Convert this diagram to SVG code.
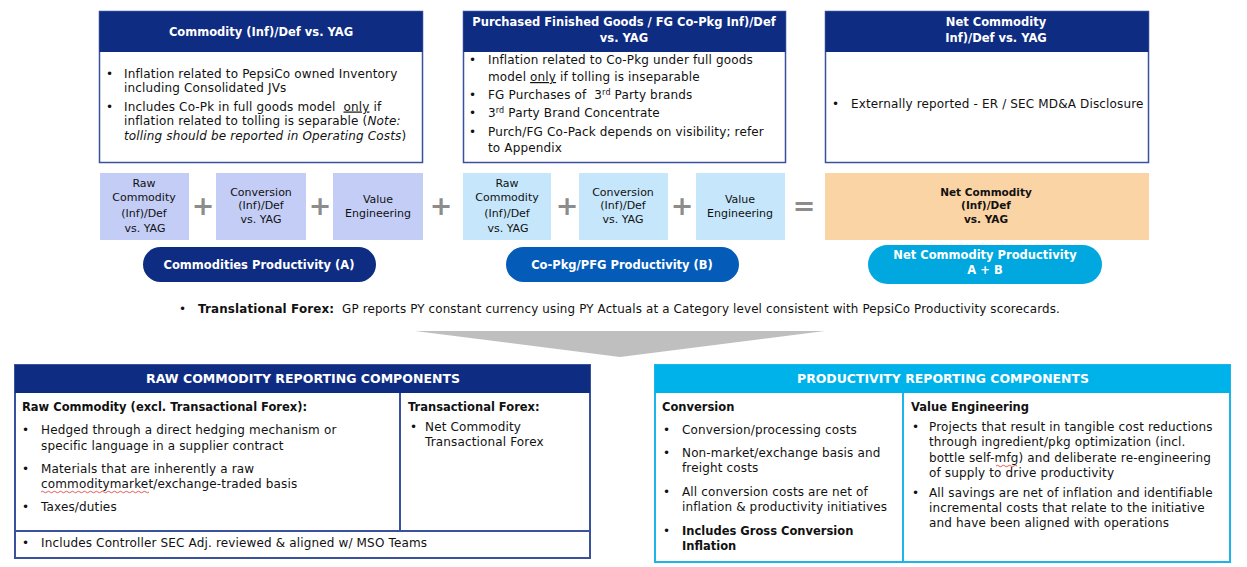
<svg xmlns="http://www.w3.org/2000/svg" width="1247" height="567" viewBox="0 0 1247 567">
<style>
text{font-family:"DejaVu Sans","Noto Sans",sans-serif;fill:#111;}
.t{font-size:12px;letter-spacing:0.15px;}
.tb{font-size:11.5px;font-weight:bold;}
.w{fill:#fff;font-weight:bold;}
.h{font-size:11.5px;}
.m{font-size:11px;text-anchor:middle;}
.mb{font-size:10.5px;font-weight:bold;text-anchor:middle;}
.c{text-anchor:middle;}
.navy{fill:#0f2c83;}
.box{fill:#fff;stroke:#3a519e;stroke-width:1.5;}
.lp{fill:#c3cdf6;}
.lb{fill:#c6e7fb;}
.sym{font-size:27px;fill:#8c8c8c;font-weight:bold;text-anchor:middle;}
.sq{fill:none;stroke:#e03030;stroke-width:0.8;}
</style>

<g id="box-commodity">
<rect class="box" x="99.5" y="11.5" width="323" height="151"/>
<rect class="navy" x="99.5" y="11.5" width="323" height="40.5"/>
<text class="h w c" x="261" y="35.5">Commodity (Inf)/Def vs. YAG</text>
<text class="t"><tspan x="106" y="77.5">•</tspan><tspan x="124" y="77.5">Inflation related to PepsiCo owned Inventory</tspan><tspan x="124" y="91.8">including Consolidated JVs</tspan></text>
<text class="t" xml:space="preserve"><tspan x="106" y="110.5">•</tspan><tspan x="124" y="110.5">Includes Co-Pk in full goods model  <tspan text-decoration="underline">only</tspan> if</tspan><tspan x="124" y="125">inflation related to tolling is separable (<tspan font-style="italic">Note:</tspan></tspan><tspan x="124" y="139.5"><tspan font-style="italic">tolling should be reported in Operating Costs</tspan>)</tspan></text>
</g>

<g id="box-pfg">
<rect class="box" x="463.5" y="11.5" width="322" height="151"/>
<rect class="navy" x="463.5" y="11.5" width="322" height="40.5"/>
<text class="h w c"><tspan x="624" y="26">Purchased Finished Goods / FG Co-Pkg Inf)/Def</tspan><tspan x="624" y="42">vs. YAG</tspan></text>
<text class="t"><tspan x="469" y="64">•</tspan><tspan x="488" y="64">Inflation related to Co-Pkg under full goods</tspan><tspan x="488" y="81">model <tspan text-decoration="underline">only</tspan> if tolling is inseparable</tspan></text>
<text class="t" xml:space="preserve"><tspan x="469" y="99">•</tspan><tspan x="488" y="99">FG Purchases of  3</tspan><tspan font-size="8" dy="-4.5">rd</tspan><tspan dy="4.5"> Party brands</tspan></text>
<text class="t"><tspan x="469" y="117">•</tspan><tspan x="488" y="117">3</tspan><tspan font-size="8" dy="-4.5">rd</tspan><tspan dy="4.5"> Party Brand Concentrate</tspan></text>
<text class="t"><tspan x="469" y="136">•</tspan><tspan x="488" y="136">Purch/FG Co-Pack depends on visibility; refer</tspan><tspan x="488" y="152">to Appendix</tspan></text>
</g>

<g id="box-net">
<rect class="box" x="825.5" y="11.5" width="323" height="151"/>
<rect class="navy" x="825.5" y="11.5" width="323" height="40.5"/>
<text class="h w c"><tspan x="996" y="26">Net Commodity</tspan><tspan x="996" y="42">Inf)/Def vs. YAG</tspan></text>
<text class="t"><tspan x="832" y="108">•</tspan><tspan x="851" y="108">Externally reported - ER / SEC MD&amp;A Disclosure</tspan></text>
</g>

<g id="a-raw">
<rect class="lp" x="100" y="173" width="89" height="67"/>
<text class="m"><tspan x="144" y="187">Raw</tspan><tspan x="144" y="201">Commodity</tspan><tspan x="144" y="217">(Inf)/Def</tspan><tspan x="145" y="232">vs. YAG</tspan></text>
</g>
<g id="a-conv">
<rect class="lp" x="216" y="173" width="90" height="67"/>
<text class="m"><tspan x="261" y="196">Conversion</tspan><tspan x="261" y="209.2">(Inf)/Def</tspan><tspan x="261" y="223">vs. YAG</tspan></text>
</g>
<g id="a-ve">
<rect class="lp" x="333" y="173" width="90" height="67"/>
<text class="m"><tspan x="378" y="203">Value</tspan><tspan x="378" y="217">Engineering</tspan></text>
</g>
<g id="b-raw">
<rect class="lb" x="463" y="173" width="88" height="67"/>
<text class="m"><tspan x="507" y="187">Raw</tspan><tspan x="507" y="201">Commodity</tspan><tspan x="507" y="217">(Inf)/Def</tspan><tspan x="508" y="232">vs. YAG</tspan></text>
</g>
<g id="b-conv">
<rect class="lb" x="579" y="173" width="89" height="67"/>
<text class="m"><tspan x="623" y="196">Conversion</tspan><tspan x="623" y="209.2">(Inf)/Def</tspan><tspan x="623" y="223">vs. YAG</tspan></text>
</g>
<g id="b-ve">
<rect class="lb" x="696" y="173" width="89" height="67"/>
<text class="m"><tspan x="740" y="203">Value</tspan><tspan x="740" y="217">Engineering</tspan></text>
</g>
<g id="net-result">
<rect fill="#fbd4a5" x="825" y="173" width="324" height="67"/>
<text class="mb"><tspan x="986" y="196">Net Commodity</tspan><tspan x="986" y="209.2">(Inf)/Def</tspan><tspan x="986" y="223">vs. YAG</tspan></text>
</g>

<g id="operators">
<text class="sym" x="203" y="215">+</text>
<text class="sym" x="320" y="215">+</text>
<text class="sym" x="441" y="215">+</text>
<text class="sym" x="567" y="215">+</text>
<text class="sym" x="682" y="215">+</text>
<text class="sym" x="804" y="215">=</text>
</g>

<g id="pill-a">
<rect x="143" y="247" width="233" height="35" rx="17.5" fill="#0f2c83"/>
<text class="h w c" x="259" y="268.5">Commodities Productivity (A)</text>
</g>
<g id="pill-b">
<rect x="506" y="247" width="233" height="35" rx="17.5" fill="#045cb8"/>
<text class="h w c" x="622" y="268.5">Co-Pkg/PFG Productivity (B)</text>
</g>
<g id="pill-net">
<rect x="868" y="245" width="234" height="39" rx="19.5" fill="#00a8df"/>
<text class="h w c"><tspan x="985" y="258.5">Net Commodity Productivity</tspan><tspan x="985" y="274">A + B</tspan></text>
</g>

<g id="forex-note">
<text class="t" xml:space="preserve"><tspan x="179" y="313">•</tspan><tspan x="198" y="313" textLength="862" lengthAdjust="spacingAndGlyphs"><tspan font-weight="bold">Translational Forex:</tspan>  GP reports PY constant currency using PY Actuals at a Category level consistent with PepsiCo Productivity scorecards.</tspan></text>
</g>

<g id="connectors">
<polygon points="415,331 825,331 620,357" fill="#bfbfbf"/>
</g>

<g id="raw-components">
<rect x="15" y="365" width="575" height="193" fill="#fff" stroke="#3a519e" stroke-width="2"/>
<rect x="15" y="365" width="575" height="28" fill="#0f2c83"/>
<line x1="400" y1="393" x2="400" y2="531" stroke="#3a519e" stroke-width="2"/>
<line x1="15" y1="531" x2="590" y2="531" stroke="#3a519e" stroke-width="2"/>
<text class="h w" x="146" y="383" textLength="314" lengthAdjust="spacingAndGlyphs">RAW COMMODITY REPORTING COMPONENTS</text>
<text class="tb" x="22" y="411">Raw Commodity (excl. Transactional Forex):</text>
<text class="t"><tspan x="22" y="434">•</tspan><tspan x="41" y="434">Hedged through a direct hedging mechanism or</tspan><tspan x="41" y="450">specific language in a supplier contract</tspan></text>
<text class="t"><tspan x="22" y="473">•</tspan><tspan x="41" y="473">Materials that are inherently a raw</tspan><tspan x="41" y="488">commoditymarket/exchange-traded basis</tspan></text>
<path class="sq" d="M41,492 q1.5,-1.5 3,0 t3,0 t3,0 t3,0 t3,0 t3,0 t3,0 t3,0 t3,0 t3,0 t3,0 t3,0 t3,0 t3,0 t3,0 t3,0 t3,0 t3,0 t3,0 t3,0 t3,0 t3,0 t3,0 t3,0 t3,0 t3,0 t3,0 t3,0 t3,0 t3,0 t3,0 t3,0 t3,0 t3,0 t3,0 t3,0"/>
<text class="t"><tspan x="22" y="511">•</tspan><tspan x="41" y="511">Taxes/duties</tspan></text>
<text class="tb" x="408" y="411">Transactional Forex:</text>
<text class="t"><tspan x="410" y="431">•</tspan><tspan x="425" y="431">Net Commodity</tspan><tspan x="425" y="446">Transactional Forex</tspan></text>
<text class="t"><tspan x="22" y="547">•</tspan><tspan x="41" y="547">Includes Controller SEC Adj. reviewed &amp; aligned w/ MSO Teams</tspan></text>
</g>

<g id="productivity-components">
<rect x="655" y="365" width="575" height="197" fill="#fff" stroke="#1cb4ea" stroke-width="2"/>
<rect x="655" y="365" width="575" height="28" fill="#00b2ea"/>
<line x1="903" y1="393" x2="903" y2="562" stroke="#1cb4ea" stroke-width="2"/>
<text class="h w" x="797" y="383" textLength="292" lengthAdjust="spacingAndGlyphs">PRODUCTIVITY REPORTING COMPONENTS</text>
<text class="tb" x="662" y="411">Conversion</text>
<text class="t"><tspan x="663" y="434">•</tspan><tspan x="682" y="434">Conversion/processing costs</tspan></text>
<text class="t"><tspan x="663" y="457">•</tspan><tspan x="682" y="457">Non-market/exchange basis and</tspan><tspan x="682" y="472">freight costs</tspan></text>
<text class="t"><tspan x="663" y="496">•</tspan><tspan x="682" y="496">All conversion costs are net of</tspan><tspan x="682" y="511">inflation &amp; productivity initiatives</tspan></text>
<text class="t"><tspan x="663" y="535">•</tspan><tspan x="682" y="535" font-size="11.5" font-weight="bold" letter-spacing="0">Includes Gross Conversion</tspan><tspan x="682" y="549.5" font-size="11.5" font-weight="bold" letter-spacing="0">Inflation</tspan></text>
<text class="tb" x="911" y="411">Value Engineering</text>
<text class="t"><tspan x="912" y="431">•</tspan><tspan x="929" y="431">Projects that result in tangible cost reductions</tspan><tspan x="929" y="446">through ingredient/pkg optimization (incl.</tspan><tspan x="929" y="462">bottle self-mfg) and deliberate re-engineering</tspan><tspan x="929" y="477">of supply to drive productivity</tspan></text>
<path class="sq" d="M996,466 q1.5,-1.5 3,0 t3,0 t3,0 t3,0 t3,0 t3,0 t3,0"/>
<text class="t"><tspan x="912" y="497">•</tspan><tspan x="929" y="497">All savings are net of inflation and identifiable</tspan><tspan x="929" y="512">incremental costs that relate to the initiative</tspan><tspan x="929" y="527">and have been aligned with operations</tspan></text>
</g>
</svg>
